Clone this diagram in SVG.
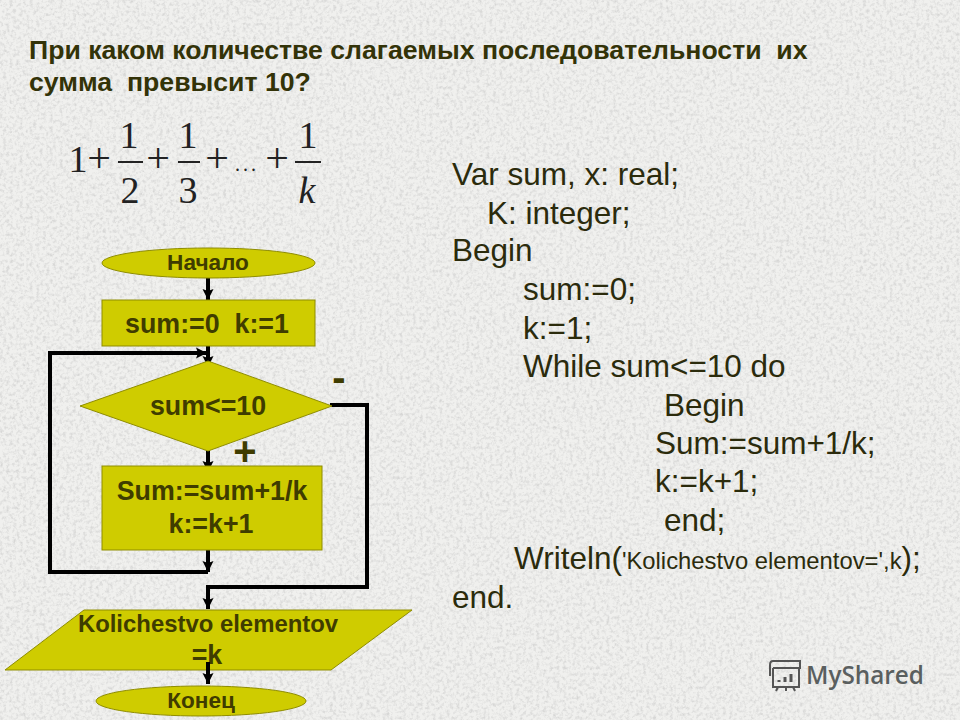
<svg xmlns="http://www.w3.org/2000/svg" width="960" height="720" viewBox="0 0 960 720">
<style>
text{font-family:"Liberation Sans",Arial,sans-serif;white-space:pre}
.t{font-size:26.65px;font-weight:bold;fill:#333308}
.c{font-size:31.5px;fill:#2b2b0c}
.n{font-weight:bold;fill:#3f3c00;font-size:26.8px;text-anchor:middle}
.n2{font-size:22.6px}
.s{fill:#cfcc00;stroke:#8f8d00;stroke-width:1}
.l{fill:none;stroke:#000;stroke-width:4;stroke-linejoin:miter}
.m{font-family:"Liberation Serif","Times New Roman",serif;fill:#222;text-anchor:middle;font-size:38px}
.p{font-size:42px}
.f{stroke:#222;stroke-width:2}
</style>
<defs>
<marker id="a" markerUnits="userSpaceOnUse" markerWidth="14" markerHeight="14" refX="11" refY="7" orient="auto"><path d="M0 1.5L11 7L0 12.5L2 7Z" fill="#000"/></marker>
<filter id="g" x="0" y="0" width="100%" height="100%"><feTurbulence type="fractalNoise" baseFrequency="0.3" numOctaves="4" seed="4"/><feColorMatrix values="0 0 0 0 0.5 0 0 0 0 0.5 0 0 0 0 0.5 2.4 0 0 0 -1.05"/></filter>
</defs>
<rect id="background" width="960" height="720" fill="#f0f0ee"/>
<rect width="960" height="720" filter="url(#g)" opacity="0.48"/>
<g id="title"><text class="t" x="29" y="59">При каком количестве слагаемых последовательности  их</text><text class="t" x="29" y="91">сумма  превысит 10?</text></g>
<g id="formula">
<text class="m" x="78" y="172">1</text><text class="m p" x="99" y="172">+</text>
<text class="m" x="129" y="148">1</text><line class="f" x1="118" y1="162" x2="143" y2="162"/><text class="m" x="130" y="203">2</text>
<text class="m p" x="158" y="172">+</text>
<text class="m" x="188" y="148">1</text><line class="f" x1="178" y1="162" x2="200" y2="162"/><text class="m" x="188" y="203">3</text>
<text class="m p" x="217" y="172">+</text><text class="m" style="font-size:20px;letter-spacing:3px" x="247" y="171">...</text><text class="m p" x="277" y="172">+</text>
<text class="m" x="308" y="148">1</text><line class="f" x1="295" y1="162" x2="321" y2="162"/><text class="m" font-style="italic" x="307" y="203">k</text>
</g>
<g id="connectors">
<path class="l" marker-end="url(#a)" d="M208 278V300"/>
<path class="l" marker-end="url(#a)" d="M208 346V367"/>
<path class="l" marker-end="url(#a)" d="M50 572V353H207"/>
<path class="l" marker-end="url(#a)" d="M208 451V472"/>
<path class="l" marker-end="url(#a)" d="M208 550V572"/>
<path class="l" d="M208 572H48"/>
<path class="l" marker-end="url(#a)" d="M330 405H367V587H208V609"/>
</g>
<g id="start"><rect class="s" x="102" y="248" width="213" height="30" rx="106" ry="15"/><text class="n n2" x="208" y="270">Начало</text></g>
<g id="init"><rect class="s" x="102" y="300" width="213" height="46"/><text class="n" x="207" y="333">sum:=0  k:=1</text></g>
<g id="cond"><polygon class="s" points="80,406 208,361 332,406 208,451"/><text class="n" x="208" y="415">sum&lt;=10</text></g>
<g id="body"><rect class="s" x="102" y="466" width="220" height="84"/><text class="n" x="212" y="500">Sum:=sum+1/k</text><text class="n" x="211" y="533">k:=k+1</text></g>
<g id="output"><polygon class="s" points="5,670 84,610 412,610 331,670"/><text class="n" style="font-size:23.9px" x="208" y="632">Kolichestvo elementov</text><text class="n" x="207" y="664">=k</text></g>
<g id="end"><rect class="s" x="96" y="686" width="210" height="30" rx="105" ry="15"/><text class="n n2" x="201" y="708">Конец</text></g>
<path class="l" marker-end="url(#a)" d="M208 662V684"/>
<text id="minus" x="339" y="391" font-size="40" font-weight="bold" fill="#3f3c00" text-anchor="middle">-</text>
<text id="plus" x="245" y="465" font-size="40" font-weight="bold" fill="#3f3c00" text-anchor="middle">+</text>
<g id="code">
<text class="c" x="452" y="185">Var sum, x: real;</text>
<text class="c" x="487" y="224">K: integer;</text>
<text class="c" x="452" y="261">Begin</text>
<text class="c" x="523" y="300">sum:=0;</text>
<text class="c" x="523" y="339">k:=1;</text>
<text class="c" x="523" y="377">While sum&lt;=10 do</text>
<text class="c" x="664" y="416">Begin</text>
<text class="c" x="655" y="454">Sum:=sum+1/k;</text>
<text class="c" x="655" y="492">k:=k+1;</text>
<text class="c" x="664" y="531">end;</text>
<text class="c" x="514" y="569">Writeln(<tspan font-size="23.8">'Kolichestvo elementov=',k</tspan>);</text>
<text class="c" x="452" y="608">end.</text>
</g>
<g id="watermark" fill="none" stroke="#555" stroke-width="2">
<path d="M773 661H800V668H773M770 676V665Q770 661 773 661M773 668V687H799V668M778 687L776 691M786 687V691M793 687L795 691"/>
<path d="M779 682V680M785 682V677M791 682V674" stroke-width="3"/>
<text x="806" y="684" font-size="24.3" font-weight="600" fill="#5a5f5f" stroke="none" style="font-family:'Open Sans',sans-serif">MyShared</text>
</g>
</svg>
